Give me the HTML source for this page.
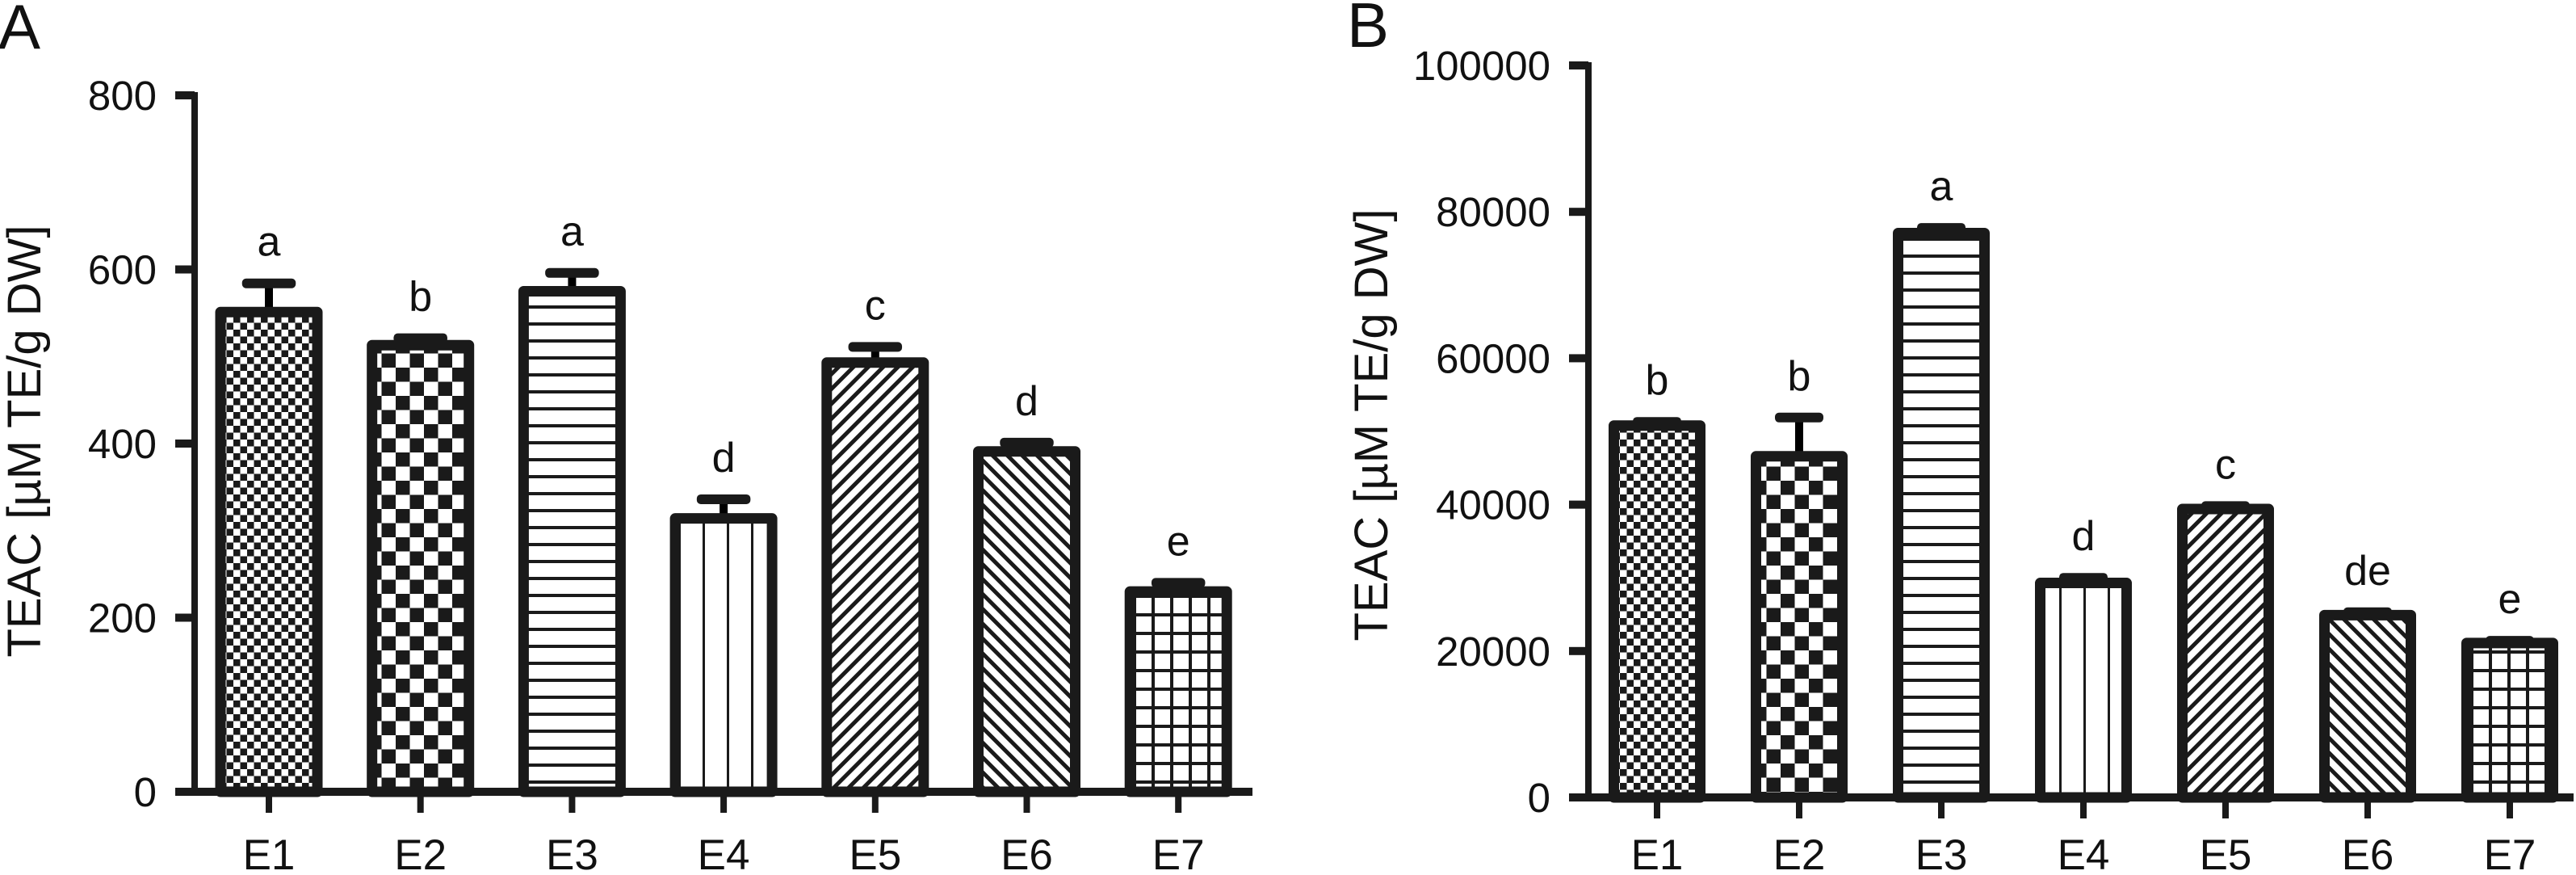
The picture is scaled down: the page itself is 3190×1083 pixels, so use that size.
<!DOCTYPE html>
<html><head><meta charset="utf-8"><style>
html,body{margin:0;padding:0;background:#fff;}
svg{display:block;}
text{font-family:"Liberation Sans",Arial,sans-serif;fill:#111;}
</style></head><body>
<svg id="fig" width="3190" height="1083" viewBox="0 0 3190 1083" xmlns="http://www.w3.org/2000/svg">
<defs>
<pattern id="p1" width="17" height="17" patternUnits="userSpaceOnUse"><rect width="17" height="17" fill="#fff"/><rect width="8.5" height="8.5" fill="#1a1a1a"/><rect x="8.5" y="8.5" width="8.5" height="8.5" fill="#1a1a1a"/></pattern>
<pattern id="p2" width="35" height="35" patternUnits="userSpaceOnUse"><rect width="35" height="35" fill="#fff"/><rect width="17.5" height="17.5" fill="#1a1a1a"/><rect x="17.5" y="17.5" width="17.5" height="17.5" fill="#1a1a1a"/></pattern>
<pattern id="p3" width="20" height="21" patternUnits="userSpaceOnUse"><rect width="20" height="21" fill="#fff"/><rect y="0" width="20" height="4" fill="#1a1a1a"/></pattern>
<pattern id="p4" width="30" height="20" patternUnits="userSpaceOnUse"><rect width="30" height="20" fill="#fff"/><rect x="0" width="3" height="20" fill="#1a1a1a"/></pattern>
<pattern id="p5" width="13" height="13" patternUnits="userSpaceOnUse" patternTransform="rotate(45)"><rect width="13" height="13" fill="#fff"/><rect width="5" height="13" fill="#1a1a1a"/></pattern>
<pattern id="p6" width="13" height="13" patternUnits="userSpaceOnUse" patternTransform="rotate(-45)"><rect width="13" height="13" fill="#fff"/><rect width="5" height="13" fill="#1a1a1a"/></pattern>
<pattern id="p7" width="23" height="23" patternUnits="userSpaceOnUse"><rect width="23" height="23" fill="#fff"/><rect width="4" height="23" fill="#1a1a1a"/><rect width="23" height="4" fill="#1a1a1a"/></pattern>
</defs>
<g id="panelA"></g>
<g id="panelB"></g>
</svg>
<script>
const categories = ["E1","E2","E3","E4","E5","E6","E7"];
const valuesA = [551, 513, 575, 314, 493, 391, 230];
const errorsA = [33, 8, 21, 22, 18, 10, 10];
const lettersA = ["a","b","a","d","c","d","e"];
const ticksA = [0, 200, 400, 600, 800];
const valuesB = [50800, 46600, 77100, 29300, 39400, 24900, 21100];
const errorsB = [500, 5300, 700, 700, 400, 400, 300];
const lettersB = ["b","b","a","d","c","de","e"];
const ticksB = [0, 20000, 40000, 60000, 80000, 100000];

const NS = "http://www.w3.org/2000/svg";
function mk(tag, attrs, parent){const e=document.createElementNS(NS,tag);for(const k in attrs)e.setAttribute(k,attrs[k]);parent.appendChild(e);return e;}

function drawPanel(g, cfg, values, errors, letters, ticks){
  const y = v => cfg.y0 - (v/cfg.max)*(cfg.y0-cfg.yTop);
  const xc = i => cfg.firstX + i*cfg.step;
  const pl = mk("text",{x:cfg.plX,y:cfg.plY,"font-size":78},g); pl.textContent=cfg.panel;
  
  
  const yt = mk("text",{x:0,y:0,"font-size":58,"text-anchor":"middle",transform:`translate(${cfg.titleX},${cfg.titleY}) rotate(-90)`},g);
  yt.textContent="TEAC [µM TE/g DW]";
  
  
  values.forEach((v,i)=>{
    const cx=xc(i), w=cfg.barW, top=y(v);
    const eb = mk("g",{},g);
    
    
    const et=y(v+errors[i]);
    mk("rect",{x:cx-5,y:et,width:10,height:top-et},eb);
    mk("rect",{x:cx-w*0.25,y:et-6,width:w*0.5,height:12,rx:5,fill:"#1a1a1a"},eb);
    const r = mk("rect",{x:cx-w/2+6.5,y:top,width:w-13,height:cfg.y0-top,fill:`url(#p${i+1})`,stroke:"#1a1a1a","stroke-width":13,"stroke-linejoin":"round"},g);
    
    
    const lt = mk("text",{x:cx,y:et-34,"font-size":52,"text-anchor":"middle"},g); lt.textContent=letters[i];
    
    
    mk("rect",{x:cx-4,y:cfg.y0,width:8,height:26,fill:"#1a1a1a"},g);
    const xl = mk("text",{x:cx,y:1076,"font-size":53,"text-anchor":"middle"},g); xl.textContent=categories[i];
    
    
  });
  const ya = mk("rect",{x:cfg.axisX-4,y:y(cfg.max)-4,width:8,height:cfg.y0-y(cfg.max)+8,fill:"#1a1a1a"},g);
  
  
  const xa = mk("rect",{x:cfg.axisX-24,y:cfg.y0-5,width:cfg.axisEnd-cfg.axisX+24,height:10,fill:"#1a1a1a"},g);
  
  
  ticks.forEach(t=>{
    mk("rect",{x:cfg.axisX-24,y:y(t)-5,width:24,height:10,fill:"#1a1a1a"},g);
    const tl = mk("text",{x:cfg.axisX-47,y:y(t)+18,"font-size":51,"text-anchor":"end"},g); tl.textContent=t;
    
    
  });
}
drawPanel(document.getElementById("panelA"),
  {panel:"A",plX:-2,plY:60,titleX:50,titleY:546,y0:980,yTop:118,max:800,axisX:241,axisEnd:1551,firstX:333,step:187.7,barW:133},
  valuesA, errorsA, lettersA, ticksA);
drawPanel(document.getElementById("panelB"),
  {panel:"B",plX:1668,plY:58,titleX:1718,titleY:526,y0:987,yTop:81,max:100000,axisX:1967,axisEnd:3187,firstX:2052,step:176,barW:120},
  valuesB, errorsB, lettersB, ticksB);
</script>
</body></html>
